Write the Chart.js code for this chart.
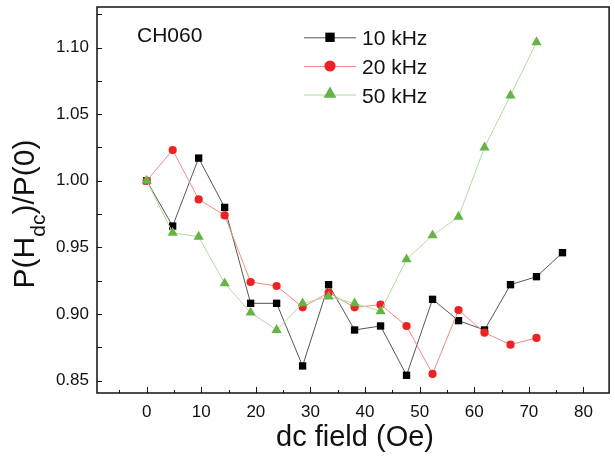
<!DOCTYPE html>
<html>
<head>
<meta charset="utf-8">
<script src="https://cdn.jsdelivr.net/npm/chart.js@4.4.1/dist/chart.umd.min.js"></script>
<style>
  html, body { margin: 0; padding: 0; background: #fff; }
  #wrap { width: 615px; height: 457px; position: relative; }
</style>
</head>
<body>
<div id="wrap"><canvas id="c" width="615" height="457"></canvas></div>
<script>
// ---- data ----
const xValues = [0, 4.76, 9.52, 14.28, 19.04, 23.8, 28.56, 33.32, 38.08, 42.84, 47.6, 52.36, 57.12, 61.88, 66.64, 71.4, 76.16];
const series10k = [1.000, 0.966, 1.017, 0.980, 0.908, 0.908, 0.861, 0.922, 0.888, 0.891, 0.854, 0.911, 0.895, 0.888, 0.922, 0.928, 0.946];
const series20k = [1.000, 1.023, 0.986, 0.974, 0.924, 0.921, 0.905, 0.916, 0.905, 0.907, 0.891, 0.855, 0.903, 0.886, 0.877, 0.882];
const series50k = [1.000, 0.961, 0.958, 0.923, 0.901, 0.888, 0.908, 0.913, 0.908, 0.902, 0.941, 0.959, 0.973, 1.025, 1.064, 1.104];
const seriesLabels = ['10 kHz', '20 kHz', '50 kHz'];
const xMajorTicks = [0, 10, 20, 30, 40, 50, 60, 70, 80];
const xMinorTicks = [-5, 5, 15, 25, 35, 45, 55, 65, 75];
const yMajorTicks = [0.85, 0.90, 0.95, 1.00, 1.05, 1.10];
const yMinorTicks = [0.875, 0.925, 0.975, 1.025, 1.075, 1.125];
const sampleLabel = 'CH060';
const xTitle = 'dc field (Oe)';
const yTitleParts = ['P(H', 'dc', ')/P(0)'];

const toPts = (ys) => ys.map((v, i) => ({ x: xValues[i], y: v }));

const FONT = '"Liberation Sans", Arial, sans-serif';

const styles = [
  { marker: '#000000', line: '#555555', pointStyle: 'rect', radius: 5.2, legendRadius: 6.6 },
  { marker: '#ee2222', line: '#f28a82', pointStyle: 'circle', radius: 4.1, legendRadius: 5.6 },
  { marker: '#66b445', line: '#b3dc9c', pointStyle: 'triangle', radius: 5.9, legendRadius: 7.4 }
];

function drawMarker(ctx, style, r, x, y) {
  ctx.fillStyle = style.marker;
  ctx.beginPath();
  if (style.pointStyle === 'rect') {
    const s = Math.SQRT1_2 * r;
    ctx.rect(x - s, y - s, 2 * s, 2 * s);
  } else if (style.pointStyle === 'circle') {
    ctx.arc(x, y, r, 0, Math.PI * 2);
  } else {
    ctx.moveTo(x, y - r);
    ctx.lineTo(x + Math.sin(2 * Math.PI / 3) * r, y + r / 2);
    ctx.lineTo(x - Math.sin(2 * Math.PI / 3) * r, y + r / 2);
    ctx.closePath();
  }
  ctx.fill();
}

const decor = {
  id: 'decor',
  afterDraw(chart) {
    const { ctx, chartArea: a, scales: { x, y } } = chart;
    ctx.save();
    ctx.strokeStyle = '#111';
    ctx.lineWidth = 1;
    ctx.beginPath();
    for (const v of yMajorTicks.concat(yMinorTicks)) {
      const py = Math.round(y.getPixelForValue(v)) + 0.5;
      ctx.moveTo(a.left, py); ctx.lineTo(a.left + 5, py);
    }
    for (const v of xMajorTicks) {
      const px = Math.round(x.getPixelForValue(v)) + 0.5;
      ctx.moveTo(px, a.bottom); ctx.lineTo(px, a.bottom - 6);
    }
    for (const v of xMinorTicks) {
      const px = Math.round(x.getPixelForValue(v)) + 0.5;
      ctx.moveTo(px, a.bottom); ctx.lineTo(px, a.bottom - 3);
    }
    ctx.stroke();
    ctx.lineWidth = 1.5;
    ctx.strokeStyle = '#111';
    ctx.strokeRect(a.left, a.top, a.right - a.left, a.bottom - a.top);

    ctx.fillStyle = '#111';
    ctx.font = '21px ' + FONT;
    ctx.textAlign = 'left';
    ctx.textBaseline = 'alphabetic';
    ctx.fillText(sampleLabel, 137, 41.5);

    const rows = [37.3, 66, 94.5];
    for (let i = 0; i < 3; i++) {
      const st = styles[i];
      ctx.strokeStyle = st.line;
      ctx.lineWidth = 1;
      ctx.beginPath();
      ctx.moveTo(304, rows[i] + 0.5); ctx.lineTo(356, rows[i] + 0.5);
      ctx.stroke();
      drawMarker(ctx, st, st.legendRadius, 330, rows[i] + (i === 2 ? -0.5 : 0));
      ctx.fillStyle = '#111';
      ctx.font = '21px ' + FONT;
      ctx.fillText(seriesLabels[i], 362, rows[i] + 8);
    }

    ctx.font = '29px ' + FONT;
    ctx.textAlign = 'center';
    ctx.fillText(xTitle, 355, 446);

    ctx.save();
    ctx.translate(33.5, 214);
    ctx.rotate(-Math.PI / 2);
    ctx.textAlign = 'left';
    const big = '30px ' + FONT, small = '21px ' + FONT;
    ctx.font = big; const w1 = ctx.measureText(yTitleParts[0]).width;
    ctx.font = small; const w2 = ctx.measureText(yTitleParts[1]).width;
    ctx.font = big; const w3 = ctx.measureText(yTitleParts[2]).width;
    let sx = -(w1 + w2 + w3) / 2;
    ctx.font = big; ctx.fillText(yTitleParts[0], sx, 0); sx += w1;
    ctx.font = small; ctx.fillText(yTitleParts[1], sx, 11); sx += w2;
    ctx.font = big; ctx.fillText(yTitleParts[2], sx, 0);
    ctx.restore();

    ctx.restore();
  }
};

const datasets = [series10k, series20k, series50k].map((ys, i) => ({
  label: seriesLabels[i],
  data: toPts(ys),
  borderColor: styles[i].line,
  borderWidth: 1,
  backgroundColor: styles[i].marker,
  pointBackgroundColor: styles[i].marker,
  pointBorderWidth: 0,
  pointStyle: styles[i].pointStyle,
  pointRadius: styles[i].radius,
  tension: 0,
  order: 3 - i
}));

new Chart(document.getElementById('c'), {
  type: 'line',
  data: { datasets },
  options: {
    responsive: false,
    animation: false,
    events: [],
    layout: { padding: { top: 7, right: 2, left: 0, bottom: 0 } },
    plugins: { legend: { display: false }, tooltip: { enabled: false } },
    scales: {
      x: {
        type: 'linear',
        min: -9.1,
        max: 84.7,
        grid: { display: false, drawTicks: false },
        border: { display: false },
        afterBuildTicks: (s) => { s.ticks = xMajorTicks.map(v => ({ value: v })); },
        afterFit: (s) => { s.height = 64; s.paddingLeft = 0; s.paddingRight = 0; },
        ticks: { color: '#111', font: { family: FONT, size: 17 }, padding: 9, maxRotation: 0, autoSkip: false, callback: (v) => String(v) }
      },
      y: {
        type: 'linear',
        min: 0.8407,
        max: 1.1304,
        grid: { display: false, drawTicks: false },
        border: { display: false },
        afterBuildTicks: (s) => { s.ticks = yMajorTicks.map(v => ({ value: v })); },
        afterFit: (s) => { s.width = 97; s.paddingTop = 0; s.paddingBottom = 0; },
        ticks: { color: '#111', font: { family: FONT, size: 17 }, padding: 8, autoSkip: false, callback: (v) => v.toFixed(2) }
      }
    }
  },
  plugins: [decor]
});
</script>
</body>
</html>
